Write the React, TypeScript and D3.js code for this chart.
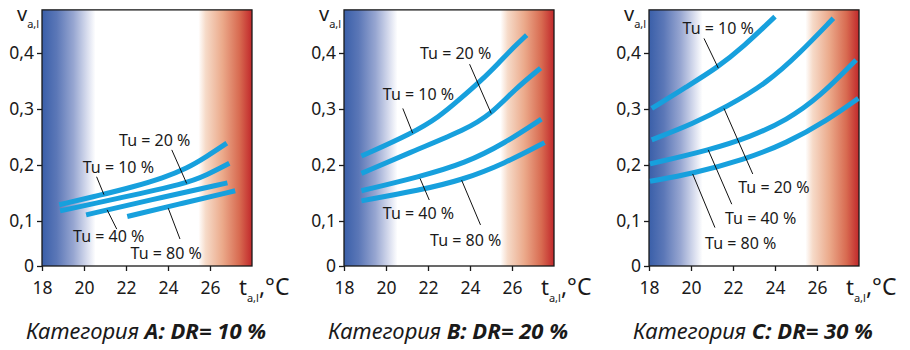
import { useEffect, useRef } from "react";
import * as d3 from "d3";

// axis values
const tempTicks = [18, 20, 22, 24, 26];
const vTicks = [0, 0.1, 0.2, 0.3, 0.4];
const tuNames = ["Tu = 10 %", "Tu = 20 %", "Tu = 40 %", "Tu = 80 %"];

// curves: [t, v]
const curvesA = [
  [[18.82, 0.129], [20.76, 0.146], [22.35, 0.161], [23.77, 0.177], [24.9, 0.194], [25.84, 0.215], [26.8, 0.239]],
  [[18.86, 0.118], [21.56, 0.14], [24.89, 0.167], [25.84, 0.182], [26.92, 0.203]],
  [[20.1, 0.111], [23.14, 0.1375], [26.83, 0.168]],
  [[22.06, 0.108], [24.73, 0.132], [27.2, 0.154]],
];
const curvesB = [
  [[18.83, 0.216], [21.27, 0.257], [22.53, 0.286], [23.47, 0.316], [24.57, 0.352], [25.36, 0.382], [26.1, 0.411], [26.7, 0.432]],
  [[18.83, 0.185], [21.43, 0.227], [23.77, 0.2625], [25.03, 0.292], [26.1, 0.334], [27.36, 0.373]],
  [[18.83, 0.154], [21.6, 0.179], [23.77, 0.203], [25.66, 0.239], [27.4, 0.282]],
  [[18.83, 0.136], [21.6, 0.155], [23.62, 0.173], [25.66, 0.203], [27.55, 0.24]],
];
const curvesC = [
  [[18.13, 0.301], [19.8, 0.34], [21.22, 0.373], [22.49, 0.411], [24.0, 0.465]],
  [[18.13, 0.245], [20.11, 0.274], [21.7, 0.304], [23.6, 0.346], [25.19, 0.4], [26.78, 0.462]],
  [[18.05, 0.202], [20.9, 0.227], [22.81, 0.25], [24.56, 0.28], [26.14, 0.322], [27.86, 0.3875]],
  [[18.05, 0.171], [20.11, 0.185], [22.49, 0.209], [24.56, 0.239], [26.5, 0.28], [27.97, 0.319]],
];

// label anchors [t, v] and pointer lines, same order as tuNames
const labelsA = [[19.94, 0.1857], [21.67, 0.234], [19.48, 0.0543], [22.22, 0.0152]];
const pointersA = [
  [[20.6, 0.179], [20.95, 0.147]],
  [[24.18, 0.227], [24.89, 0.167]],
  [[21.56, 0.082], [21.1, 0.12]],
  [[24.57, 0.06], [24.01, 0.123]],
];
const labelsB = [[19.85, 0.316], [21.62, 0.389], [19.85, 0.1036], [22.1, 0.0435]];
const pointersB = [
  [[20.8, 0.301], [21.27, 0.257]],
  [[23.98, 0.38], [25.01, 0.292]],
  [[22.06, 0.1375], [21.62, 0.176]],
  [[24.5, 0.0913], [23.6, 0.173]],
];
const labelsC = [[19.6, 0.434], [22.25, 0.15], [21.62, 0.0935], [20.67, 0.037]];
const pointersC = [
  [[20.62, 0.426], [21.3, 0.373]],
  [[22.94, 0.184], [21.57, 0.301]],
  [[21.94, 0.13], [20.82, 0.227]],
  [[21.14, 0.0854], [20.08, 0.184]],
];

const categories = ["A", "B", "C"];
const drValues = ["10 %", "20 %", "30 %"];

const FONT = "'Noto Sans', 'Open Sans', sans-serif";

export default function App() {
  const svgRef = useRef<SVGSVGElement>(null);

  useEffect(() => {
    const svg = d3.select(svgRef.current);
    svg.selectAll("*").remove();

    const panels = [
      { left: 42, curves: curvesA, labels: labelsA, pointers: pointersA },
      { left: 344, curves: curvesB, labels: labelsB, pointers: pointersB },
      { left: 649, curves: curvesC, labels: labelsC, pointers: pointersC },
    ];
    const width = 210;

    const y = d3.scaleLinear().domain([0, 0.1, 0.4]).range([266, 221, 53]);
    const vTop = 0.477;

    const defs = svg.append("defs");
    const grad = defs.append("linearGradient").attr("id", "warmcold")
      .attr("x1", "0%").attr("x2", "100%").attr("y1", "0%").attr("y2", "0%");
    [
      [0, "#3a5fa9"], [0.07, "#5b77b7"], [0.15, "#97a6d1"], [0.22, "#dde1f0"], [0.255, "#ffffff"],
      [0.745, "#ffffff"], [0.78, "#f6dac8"], [0.86, "#eba98a"], [0.94, "#d86b51"], [1, "#c1282b"],
    ].forEach(([o, c]) => grad.append("stop").attr("offset", o as number).attr("stop-color", c as string));

    panels.forEach((p, pi) => {
      const x = d3.scaleLinear().domain([18, 28]).range([p.left, p.left + width]);
      const g = svg.append("g");

      g.append("rect")
        .attr("x", x(18)).attr("y", y(vTop))
        .attr("width", x(28) - x(18)).attr("height", y(0) - y(vTop))
        .attr("fill", "url(#warmcold)")
        .attr("stroke", "#1a1a1a").attr("stroke-width", 1.3);

      const yAxis = g.append("g")
        .attr("transform", `translate(${x(18)},0)`)
        .call(d3.axisLeft(y).tickValues(vTicks).tickSize(5).tickPadding(3)
          .tickFormat((d: any) => (d === 0 ? "0" : d3.format(".1f")(d).replace(".", ","))));
      yAxis.select(".domain").remove();

      const xAxis = g.append("g")
        .attr("transform", `translate(0,${y(0)})`)
        .call(d3.axisBottom(x).tickValues(tempTicks).tickSize(5).tickPadding(11).tickFormat(d3.format("d")));
      xAxis.select(".domain").remove();

      [yAxis, xAxis].forEach(a => {
        a.selectAll("line").attr("stroke", "#1a1a1a").attr("stroke-width", 1.3);
        a.selectAll("text").attr("font-family", FONT).attr("font-size", 17.5).attr("fill", "#1a1a1a");
      });

      const line = d3.line<number[]>().x(d => x(d[0])).y(d => y(d[1])).curve(d3.curveBasis);
      g.selectAll(".curve").data(p.curves).enter().append("path")
        .attr("class", "curve")
        .attr("d", d => line(d as number[][]))
        .attr("fill", "none").attr("stroke", "#17a0dd").attr("stroke-width", 5);

      g.selectAll(".ptr").data(p.pointers).enter().append("line")
        .attr("class", "ptr")
        .attr("x1", d => x(d[0][0])).attr("y1", d => y(d[0][1]))
        .attr("x2", d => x(d[1][0])).attr("y2", d => y(d[1][1]))
        .attr("stroke", "#111").attr("stroke-width", 1);

      g.selectAll(".lbl").data(p.labels).enter().append("text")
        .attr("class", "lbl")
        .attr("x", d => x(d[0])).attr("y", d => y(d[1]))
        .attr("font-family", FONT).attr("font-size", 16).attr("fill", "#1a1a1a")
        .text((d, i) => tuNames[i]);

      // y axis name
      const vt = g.append("text").attr("x", x(18) - 25).attr("y", 21)
        .attr("font-family", FONT).attr("fill", "#1a1a1a");
      vt.append("tspan").attr("font-size", 20).text("v");
      vt.append("tspan").attr("font-size", 11).attr("dy", 7).text("a,l");

      // x axis name
      const tt = g.append("text").attr("x", x(28) - 13).attr("y", 295)
        .attr("font-family", FONT).attr("fill", "#1a1a1a");
      tt.append("tspan").attr("font-size", 22).text("t");
      tt.append("tspan").attr("font-size", 11).attr("dy", 7).text("a,l");
      tt.append("tspan").attr("font-size", 23).attr("dy", -7).text(",°C");

      // title
      const ti = g.append("text").attr("x", p.left + 104).attr("y", 339)
        .attr("text-anchor", "middle").attr("font-family", FONT).attr("font-size", 22)
        .attr("font-style", "italic").attr("fill", "#1a1a1a");
      ti.append("tspan").text("Категория ");
      ti.append("tspan").attr("font-weight", "bold").text(`${categories[pi]}: DR= ${drValues[pi]}`);
    });
  }, []);

  return (
    <div style={{ position: "absolute", left: 0, top: 0 }}>
      <svg ref={svgRef} width={910} height={350} style={{ display: "block", background: "#fff" }} />
    </div>
  );
}
